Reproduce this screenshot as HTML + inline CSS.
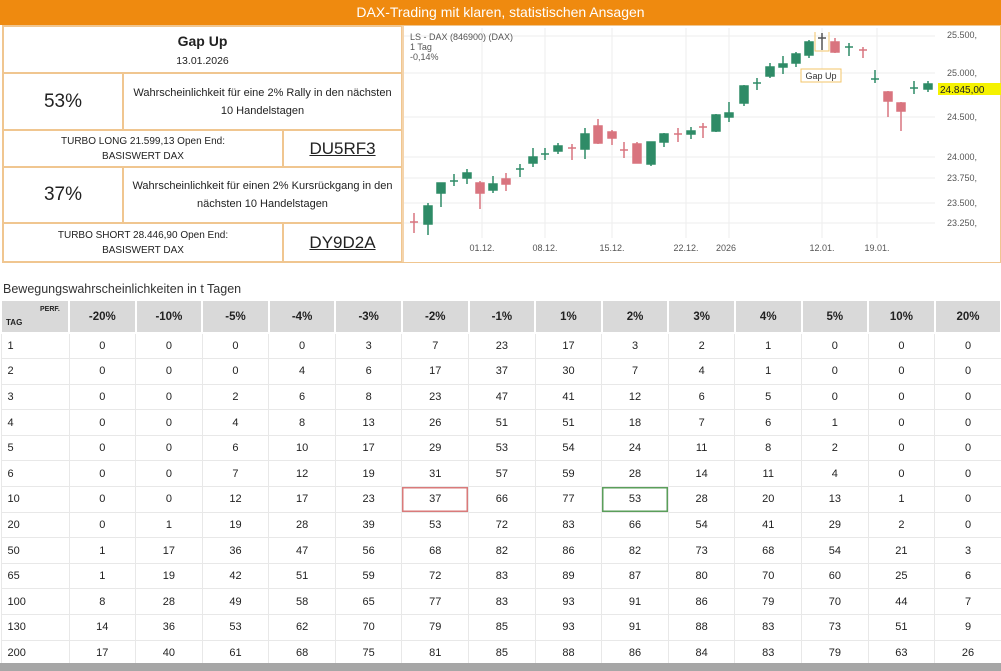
<!DOCTYPE html>
<html><head><meta charset="utf-8"><style>
*{margin:0;padding:0;box-sizing:border-box}
body{width:1001px;height:671px;background:#fff;position:relative;overflow:hidden;font-family:"Liberation Sans",sans-serif;color:#222}
.hdr{position:absolute;left:0;top:0;width:1001px;height:25px;background:#ef8a0f;color:#fff;font-size:14px;text-align:center;line-height:25px}
.box{position:absolute;border:1.5px solid #f0c690}
.c{position:absolute;display:flex;align-items:center;justify-content:center;text-align:center;border:1px solid #f0c690}
.ttl{position:absolute;left:3px;top:282px;font-size:12.5px;color:#333}
table{position:absolute;left:0;top:299px;width:1001px;border-collapse:collapse;table-layout:fixed;font-size:11px}
td,th{text-align:center;height:25.6px;border:1px solid #e8e8e8;padding:0}
th{background:#d9d9d9;border:2px solid #fff;height:33px;font-size:11.5px;font-weight:bold}
td:first-child{text-align:left;padding-left:6px}
.bot{position:absolute;left:0;top:663px;width:1001px;height:8px;background:#a6a6a6}
</style></head><body>
<div class="hdr">DAX-Trading mit klaren, statistischen Ansagen</div>
<div class="box" style="left:2px;top:25px;width:999px;height:238px"></div>
<div class="c" style="left:3px;top:26px;width:399px;height:47px;flex-direction:column"><div style="font-size:14px;font-weight:bold">Gap Up</div><div style="font-size:10.5px;margin-top:6px">13.01.2026</div></div>
<div class="c" style="left:3px;top:73px;width:120px;height:57px;font-size:19px">53%</div>
<div class="c" style="left:123px;top:73px;width:279px;height:57px;font-size:11px;line-height:18px">Wahrscheinlichkeit für eine 2% Rally in den nächsten<br>10 Handelstagen</div>
<div class="c" style="left:3px;top:130px;width:280px;height:37px;font-size:10px;line-height:15px">TURBO LONG 21.599,13 Open End:<br>BASISWERT DAX</div>
<div class="c" style="left:283px;top:130px;width:119px;height:37px;font-size:17px;text-decoration:underline">DU5RF3</div>
<div class="c" style="left:3px;top:167px;width:120px;height:56px;font-size:19px">37%</div>
<div class="c" style="left:123px;top:167px;width:279px;height:56px;font-size:11px;line-height:18px">Wahrscheinlichkeit für einen 2% Kursrückgang in den<br>nächsten 10 Handelstagen</div>
<div class="c" style="left:3px;top:223px;width:280px;height:39px;font-size:10px;line-height:15px">TURBO SHORT 28.446,90 Open End:<br>BASISWERT DAX</div>
<div class="c" style="left:283px;top:223px;width:119px;height:39px;font-size:17px;text-decoration:underline">DY9D2A</div>

<svg style="position:absolute;left:0;top:0" width="1001" height="263" font-family="Liberation Sans, sans-serif">
<g stroke="#eee" stroke-width="1">
<line x1="404" y1="36" x2="935" y2="36"/><line x1="404" y1="73" x2="935" y2="73"/><line x1="404" y1="117" x2="935" y2="117"/><line x1="404" y1="157" x2="935" y2="157"/><line x1="404" y1="178" x2="935" y2="178"/><line x1="404" y1="203" x2="935" y2="203"/><line x1="404" y1="223" x2="935" y2="223"/>
<line x1="482" y1="28" x2="482" y2="238"/><line x1="545" y1="28" x2="545" y2="238"/><line x1="612" y1="28" x2="612" y2="238"/><line x1="686" y1="28" x2="686" y2="238"/><line x1="729" y1="28" x2="729" y2="238"/><line x1="822" y1="28" x2="822" y2="238"/><line x1="877" y1="28" x2="877" y2="238"/>
</g>
<g font-size="9" fill="#555">
<text x="410" y="40">LS - DAX (846900) (DAX)</text><text x="410" y="50">1 Tag</text><text x="410" y="60">-0,14%</text>
<g text-anchor="middle"><text x="482" y="251">01.12.</text><text x="545" y="251">08.12.</text><text x="612" y="251">15.12.</text><text x="686" y="251">22.12.</text><text x="726" y="251">2026</text><text x="822" y="251">12.01.</text><text x="877" y="251">19.01.</text></g>
<text x="947" y="38">25.500,</text><text x="947" y="76">25.000,</text><text x="947" y="120">24.500,</text><text x="947" y="160">24.000,</text><text x="947" y="181">23.750,</text><text x="947" y="206">23.500,</text><text x="947" y="226">23.250,</text>
</g>
<rect x="938" y="83" width="63" height="12" fill="#f5f200"/><text x="940" y="93" font-size="10" fill="#222">24.845,00</text>
<rect x="801" y="69" width="40" height="13" fill="#fff" stroke="#f3c56a"/><text x="821" y="79" font-size="9" text-anchor="middle" fill="#333">Gap Up</text>
<path d="M815 32V51H829V32" fill="none" stroke="#f3c56a"/>
<g stroke-width="1.5">
<g stroke="#d9747f" fill="#d9747f">
<line x1="414" y1="213" x2="414" y2="233"/><line x1="410" y1="222" x2="418" y2="222"/>
<line x1="480" y1="181" x2="480" y2="209"/><rect x="476" y="183" width="8" height="10"/>
<line x1="506" y1="173" x2="506" y2="191"/><rect x="502" y="179" width="8" height="5"/>
<line x1="572" y1="144" x2="572" y2="160"/><line x1="568" y1="148" x2="576" y2="148"/>
<line x1="598" y1="119" x2="598" y2="144"/><rect x="594" y="126" width="8" height="17"/>
<line x1="612" y1="130" x2="612" y2="145"/><rect x="608" y="132" width="8" height="6"/>
<line x1="624" y1="142" x2="624" y2="158"/><line x1="620" y1="150" x2="628" y2="150"/>
<line x1="637" y1="142" x2="637" y2="163"/><rect x="633" y="144" width="8" height="19"/>
<line x1="678" y1="128" x2="678" y2="142"/><line x1="674" y1="134" x2="682" y2="134"/>
<line x1="703" y1="123" x2="703" y2="138"/><line x1="699" y1="127" x2="707" y2="127"/>
<line x1="835" y1="38" x2="835" y2="53"/><rect x="831" y="42" width="8" height="10"/>
<line x1="863" y1="47" x2="863" y2="58"/><line x1="859" y1="50" x2="867" y2="50"/>
<line x1="888" y1="91" x2="888" y2="117"/><rect x="884" y="92" width="8" height="9"/>
<line x1="901" y1="102" x2="901" y2="131"/><rect x="897" y="103" width="8" height="8"/>
</g>
<g stroke="#2e8b67" fill="#2e8b67">
<line x1="428" y1="203" x2="428" y2="235"/><rect x="424" y="206" width="8" height="18"/>
<line x1="441" y1="183" x2="441" y2="207"/><rect x="437" y="183" width="8" height="10"/>
<line x1="454" y1="174" x2="454" y2="186"/><line x1="450" y1="181" x2="458" y2="181"/>
<line x1="467" y1="169" x2="467" y2="184"/><rect x="463" y="173" width="8" height="5"/>
<line x1="493" y1="176" x2="493" y2="193"/><rect x="489" y="184" width="8" height="6"/>
<line x1="520" y1="164" x2="520" y2="177"/><line x1="516" y1="169" x2="524" y2="169"/>
<line x1="533" y1="148" x2="533" y2="167"/><rect x="529" y="157" width="8" height="6"/>
<line x1="545" y1="148" x2="545" y2="160"/><line x1="541" y1="154" x2="549" y2="154"/>
<line x1="558" y1="143" x2="558" y2="154"/><rect x="554" y="146" width="8" height="5"/>
<line x1="585" y1="128" x2="585" y2="159"/><rect x="581" y="134" width="8" height="15"/>
<line x1="651" y1="142" x2="651" y2="166"/><rect x="647" y="142" width="8" height="22"/>
<line x1="664" y1="133" x2="664" y2="147"/><rect x="660" y="134" width="8" height="8"/>
<line x1="691" y1="127" x2="691" y2="139"/><rect x="687" y="131" width="8" height="3"/>
<line x1="716" y1="114" x2="716" y2="132"/><rect x="712" y="115" width="8" height="16"/>
<line x1="729" y1="102" x2="729" y2="122"/><rect x="725" y="113" width="8" height="4"/>
<line x1="744" y1="85" x2="744" y2="106"/><rect x="740" y="86" width="8" height="17"/>
<line x1="757" y1="78" x2="757" y2="90"/><line x1="753" y1="83" x2="761" y2="83"/>
<line x1="770" y1="63" x2="770" y2="78"/><rect x="766" y="67" width="8" height="9"/>
<line x1="783" y1="56" x2="783" y2="74"/><rect x="779" y="64" width="8" height="3"/>
<line x1="796" y1="52" x2="796" y2="67"/><rect x="792" y="54" width="8" height="9"/>
<line x1="809" y1="40" x2="809" y2="58"/><rect x="805" y="42" width="8" height="13"/>
<line x1="849" y1="43" x2="849" y2="56"/><line x1="845" y1="47" x2="853" y2="47"/>
<line x1="875" y1="70" x2="875" y2="83"/><line x1="871" y1="79" x2="879" y2="79"/>
<line x1="914" y1="81" x2="914" y2="94"/><line x1="910" y1="88" x2="918" y2="88"/>
<line x1="928" y1="81" x2="928" y2="92"/><rect x="924" y="84" width="8" height="5"/>
</g>
<g stroke="#555"><line x1="822" y1="33" x2="822" y2="50"/><line x1="818" y1="38" x2="826" y2="38"/></g>
</g>
<line x1="403" y1="25" x2="403" y2="263" stroke="#f0c690" stroke-width="1.5"/>
</svg>

<div class="ttl">Bewegungswahrscheinlichkeiten in t Tagen</div>
<table>
<colgroup><col style="width:68px"><col span="14" style="width:66.6px"></colgroup>
<tr><th style="text-align:left;font-size:8px;padding-left:4px;position:relative"><span style="position:absolute;left:4px;top:17px">TAG</span><span style="position:absolute;left:38px;top:5px;font-size:7px">PERF.</span></th><th>-20%</th><th>-10%</th><th>-5%</th><th>-4%</th><th>-3%</th><th>-2%</th><th>-1%</th><th>1%</th><th>2%</th><th>3%</th><th>4%</th><th>5%</th><th>10%</th><th>20%</th></tr>
<tr><td>1</td><td>0</td><td>0</td><td>0</td><td>0</td><td>3</td><td>7</td><td>23</td><td>17</td><td>3</td><td>2</td><td>1</td><td>0</td><td>0</td><td>0</td></tr>
<tr><td>2</td><td>0</td><td>0</td><td>0</td><td>4</td><td>6</td><td>17</td><td>37</td><td>30</td><td>7</td><td>4</td><td>1</td><td>0</td><td>0</td><td>0</td></tr>
<tr><td>3</td><td>0</td><td>0</td><td>2</td><td>6</td><td>8</td><td>23</td><td>47</td><td>41</td><td>12</td><td>6</td><td>5</td><td>0</td><td>0</td><td>0</td></tr>
<tr><td>4</td><td>0</td><td>0</td><td>4</td><td>8</td><td>13</td><td>26</td><td>51</td><td>51</td><td>18</td><td>7</td><td>6</td><td>1</td><td>0</td><td>0</td></tr>
<tr><td>5</td><td>0</td><td>0</td><td>6</td><td>10</td><td>17</td><td>29</td><td>53</td><td>54</td><td>24</td><td>11</td><td>8</td><td>2</td><td>0</td><td>0</td></tr>
<tr><td>6</td><td>0</td><td>0</td><td>7</td><td>12</td><td>19</td><td>31</td><td>57</td><td>59</td><td>28</td><td>14</td><td>11</td><td>4</td><td>0</td><td>0</td></tr>
<tr><td>10</td><td>0</td><td>0</td><td>12</td><td>17</td><td>23</td><td style="box-shadow:inset 0 0 0 1.5px #d97a7a">37</td><td>66</td><td>77</td><td style="box-shadow:inset 0 0 0 1.5px #5a9e5a">53</td><td>28</td><td>20</td><td>13</td><td>1</td><td>0</td></tr>
<tr><td>20</td><td>0</td><td>1</td><td>19</td><td>28</td><td>39</td><td>53</td><td>72</td><td>83</td><td>66</td><td>54</td><td>41</td><td>29</td><td>2</td><td>0</td></tr>
<tr><td>50</td><td>1</td><td>17</td><td>36</td><td>47</td><td>56</td><td>68</td><td>82</td><td>86</td><td>82</td><td>73</td><td>68</td><td>54</td><td>21</td><td>3</td></tr>
<tr><td>65</td><td>1</td><td>19</td><td>42</td><td>51</td><td>59</td><td>72</td><td>83</td><td>89</td><td>87</td><td>80</td><td>70</td><td>60</td><td>25</td><td>6</td></tr>
<tr><td>100</td><td>8</td><td>28</td><td>49</td><td>58</td><td>65</td><td>77</td><td>83</td><td>93</td><td>91</td><td>86</td><td>79</td><td>70</td><td>44</td><td>7</td></tr>
<tr><td>130</td><td>14</td><td>36</td><td>53</td><td>62</td><td>70</td><td>79</td><td>85</td><td>93</td><td>91</td><td>88</td><td>83</td><td>73</td><td>51</td><td>9</td></tr>
<tr><td>200</td><td>17</td><td>40</td><td>61</td><td>68</td><td>75</td><td>81</td><td>85</td><td>88</td><td>86</td><td>84</td><td>83</td><td>79</td><td>63</td><td>26</td></tr>
</table>
<div class="bot"></div>
</body></html>
